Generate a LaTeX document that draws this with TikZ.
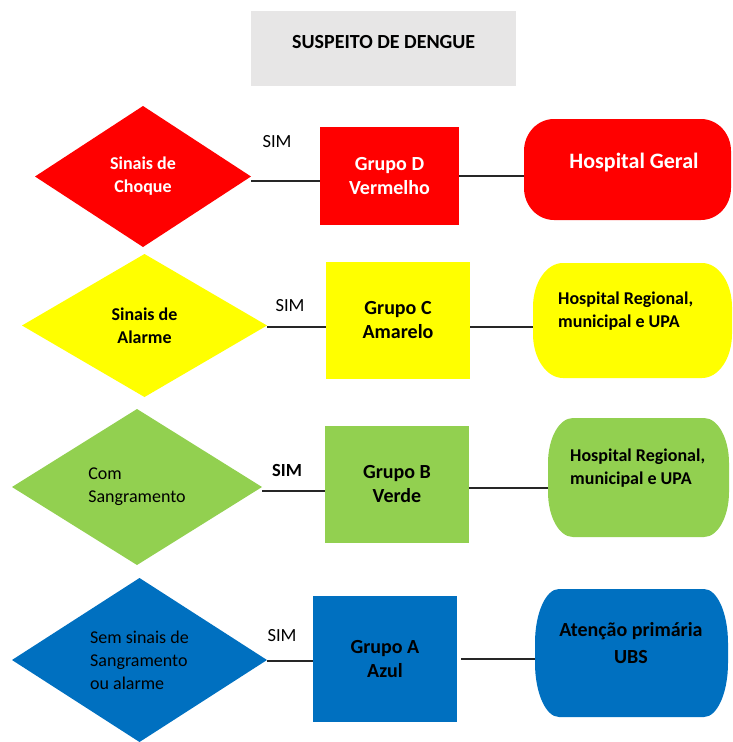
\documentclass[tikz,border=0pt]{standalone}
\usepackage{fontspec}
\setmainfont{Carlito}
\usetikzlibrary{shapes.geometric}
\definecolor{cred}{HTML}{FF0000}
\definecolor{cyel}{HTML}{FFFF00}
\definecolor{cgrn}{HTML}{92D050}
\definecolor{cblu}{HTML}{0070C0}
\definecolor{cgry}{HTML}{E7E6E6}
\newcommand{\termfill}[4]{%
  \fill[#2] ([xshift=#3]#1.north west) -- ([xshift=-#3]#1.north east)
    arc[start angle=90,end angle=0,x radius=#3,y radius=#4]
    -- ([yshift=#4]#1.south east)
    arc[start angle=0,end angle=-90,x radius=#3,y radius=#4]
    -- ([xshift=#3]#1.south west)
    arc[start angle=270,end angle=180,x radius=#3,y radius=#4]
    -- ([yshift=-#4]#1.north west)
    arc[start angle=180,end angle=90,x radius=#3,y radius=#4] -- cycle;}
\tikzset{
  dec/.style={diamond, inner sep=0pt, outer sep=0pt, align=center, font=\fontsize{18}{23}\selectfont},
  decb/.style={dec, font=\bfseries\fontsize{18}{23}\selectfont},
  grp/.style={rectangle, inner sep=0pt, outer sep=0pt, align=center, font=\bfseries\fontsize{20}{24}\selectfont},
  term/.style={rectangle, inner sep=0pt, outer sep=0pt},
  ttext/.style={inner sep=0pt, align=left, font=\bfseries\fontsize{18}{23}\selectfont},
  sim/.style={inner sep=0pt, font=\fontsize{18.5}{22}\selectfont},
  link/.style={line width=1.3pt, draw=black!85}
}
\begin{document}
\begin{tikzpicture}[x=1pt,y=-1pt]
\useasboundingbox (0,0) rectangle (732,742);
% title
\node[fill=cgry, minimum width=265pt, minimum height=75pt, inner sep=0pt] (title) at (383.5,48.5) {};
\node[inner sep=0pt, font=\bfseries\fontsize{20}{24}\selectfont] (titletext) at (383.7,42) {SUSPEITO DE DENGUE};

% row 1
\node[decb, fill=cred, text=white, minimum width=216pt, minimum height=141pt] (d1) at (143,176.5) {Sinais de\\Choque};
\node[grp, fill=cred, text=white, minimum width=139pt, minimum height=98pt] (b1) at (389.5,176) {Grupo D\\Vermelho};
\node[term, minimum width=207pt, minimum height=101pt] (r1) at (627.5,169.5) {};
\termfill{r1}{cred}{30pt}{32pt}
\node[inner sep=0pt, text=white, font=\bfseries\fontsize{22}{26}\selectfont] (r1t) at (634,163) {Hospital Geral};
\node[sim] (s1) at (277,142) {SIM};
\draw[link] ([yshift=-4.5pt]d1.east) -- ([yshift=-4.5pt]d1.east -| b1.west);
\draw[link] (b1.east) -- (b1.east -| r1.west);

% row 2
\node[decb, fill=cyel, minimum width=245pt, minimum height=143pt] (d2) at (144.5,325.5) {Sinais de\\Alarme};
\node[grp, fill=cyel, minimum width=144pt, minimum height=117pt] (b2) at (398,320.5) {Grupo C\\Amarelo};
\node[term, minimum width=199pt, minimum height=115pt] (r2) at (632.5,320.5) {};
\termfill{r2}{cyel}{30pt}{44pt}
\node[ttext, anchor=west] (r2t) at (558,311.5) {Hospital Regional,\\municipal e UPA};
\node[sim] (s2) at (290,306) {SIM};
\draw[link] ([yshift=-1.5pt]d2.east) -- ([yshift=-1.5pt]d2.east -| b2.west);
\draw[link] ([yshift=-6.5pt]b2.east) -- ([yshift=-6.5pt]b2.east -| r2.west);

% row 3
\node[dec, fill=cgrn, align=left, minimum width=250pt, minimum height=156pt] (d3) at (137,487) {Com\\Sangramento};
\node[grp, fill=cgrn, minimum width=144pt, minimum height=117pt] (b3) at (397,484.5) {Grupo B\\Verde};
\node[term, minimum width=181pt, minimum height=119pt] (r3) at (638.5,477.5) {};
\termfill{r3}{cgrn}{25pt}{45pt}
\node[ttext, anchor=west] (r3t) at (570,468) {Hospital Regional,\\municipal e UPA};
\node[sim, font=\bfseries\fontsize{18.5}{22}\selectfont] (s3) at (287,470) {SIM};
\draw[link] ([yshift=-4pt]d3.east) -- ([yshift=-4pt]d3.east -| b3.west);
\draw[link] ([yshift=-3.5pt]b3.east) -- ([yshift=-3.5pt]b3.east -| r3.west);

% row 4
\node[dec, fill=cblu, align=left, minimum width=255pt, minimum height=164pt] (d4) at (139.5,660) {Sem sinais de\\Sangramento\\ou alarme};
\node[grp, fill=cblu, minimum width=144pt, minimum height=126pt] (b4) at (385,659) {Grupo A\\Azul};
\node[term, minimum width=193pt, minimum height=128pt] (r4) at (631.5,653) {};
\termfill{r4}{cblu}{24pt}{54pt}
\node[inner sep=0pt, align=center, font=\bfseries\fontsize{20}{27}\selectfont] (r4t) at (631,643.5) {Atenção primária\\UBS};
\node[sim] (s4) at (282,636) {SIM};
\draw[link] ([yshift=-1pt]d4.east) -- ([yshift=-1pt]d4.east -| b4.west);
\draw[link] ([xshift=4pt]b4.east) -- (b4.east -| r4.west);
\end{tikzpicture}
\end{document}
